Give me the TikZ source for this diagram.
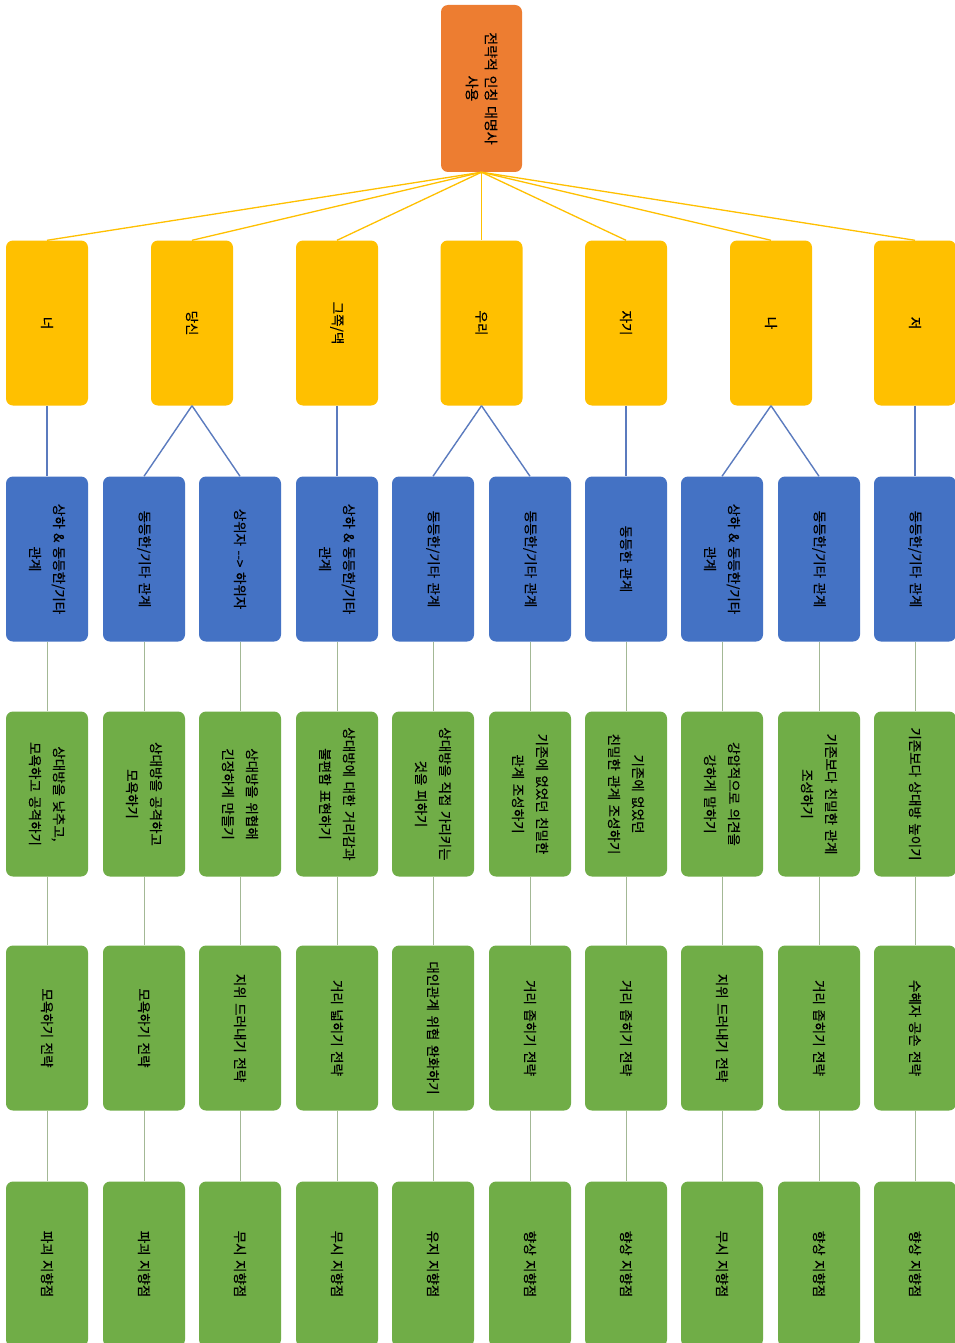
\documentclass[tikz,border=0pt]{standalone}
\usepackage{fontspec}
\newfontfamily\kr[FakeBold=0.4]{Noto Sans CJK KR}
\definecolor{corange}{HTML}{ED7D31}
\definecolor{cyellow}{HTML}{FFC000}
\definecolor{cblue}{HTML}{4472C4}
\definecolor{cgreen}{HTML}{70AD47}
\definecolor{cblueline}{HTML}{5B7BBE}
\definecolor{cgrayline}{HTML}{A3B895}
\begin{document}
\begin{tikzpicture}[x=1pt,y=-1pt,
  box/.style={rectangle, rounded corners=7pt, rotate=-90, minimum width=165pt,
    minimum height=82pt, inner sep=1pt, text width=161pt, align=center,
    font=\kr\fontsize{13.5}{24}\selectfont, text=black},
  rootbox/.style={box, fill=corange, font=\kr\fontsize{14}{19}\selectfont, minimum width=167pt, minimum height=81pt},
  ybox/.style={box, fill=cyellow},
  bbox/.style={box, fill=cblue},
  gbox/.style={box, fill=cgreen},
  ycon/.style={draw=cyellow, line width=1.3pt},
  bcon/.style={draw=cblueline, line width=1.4pt},
  gcon/.style={draw=cgrayline, line width=0.8pt}]
\useasboundingbox (0,0) rectangle (955,1343);
\fill[white] (0,0) rectangle (955,1343);

% root
\node[rootbox] (root) at (481.5,88.5) {전략적 인칭 대명사\\사용};

% level 1
\node[ybox] (y1) at (47,323) {너};
\node[ybox] (y2) at (192,323) {당신};
\node[ybox] (y3) at (337,323) {그쪽/댁};
\node[ybox] (y4) at (481.5,323) {우리};
\node[ybox] (y5) at (626,323) {자기};
\node[ybox] (y6) at (771,323) {나};
\node[ybox] (y7) at (915,323) {저};

% level 2
\node[bbox] (b1) at (47,559) {상하 \& 동등한/기타\\관계};
\node[bbox] (b2) at (144,559) {동등한/기타 관계};
\node[bbox] (b3) at (240,559) {상위자 --> 하위자};
\node[bbox] (b4) at (337,559) {상하 \& 동등한/기타\\관계};
\node[bbox] (b5) at (433,559) {동등한/기타 관계};
\node[bbox] (b6) at (530,559) {동등한/기타 관계};
\node[bbox] (b7) at (626,559) {동등한 관계};
\node[bbox] (b8) at (722,559) {상하 \& 동등한/기타\\관계};
\node[bbox] (b9) at (819,559) {동등한/기타 관계};
\node[bbox] (b10) at (915,559) {동등한/기타 관계};

% level 3
\node[gbox] (c1) at (47,794) {상대방을 낮추고,\\모욕하고 공격하기};
\node[gbox] (c2) at (144,794) {상대방을 공격하고\\모욕하기};
\node[gbox] (c3) at (240,794) {상대방을 위협해\\긴장하게 만들기};
\node[gbox] (c4) at (337,794) {상대방에 대한 거리감과\\불편함 표현하기};
\node[gbox] (c5) at (433,794) {상대방을 직접 가리키는\\것을 피하기};
\node[gbox] (c6) at (530,794) {기존에 없었던 친밀한\\관계 조성하기};
\node[gbox] (c7) at (626,794) {기존에 없었던\\친밀한 관계 조성하기};
\node[gbox] (c8) at (722,794) {강압적으로 의견을\\강하게 말하기};
\node[gbox] (c9) at (819,794) {기존보다 친밀한 관계\\조성하기};
\node[gbox] (c10) at (915,794) {기존보다 상대방 높이기};

% level 4
\node[gbox] (d1) at (47,1028) {모욕하기 전략};
\node[gbox] (d2) at (144,1028) {모욕하기 전략};
\node[gbox] (d3) at (240,1028) {지위 드러내기 전략};
\node[gbox] (d4) at (337,1028) {거리 넓히기 전략};
\node[gbox] (d5) at (433,1028) {대인관계 위협 완화하기};
\node[gbox] (d6) at (530,1028) {거리 좁히기 전략};
\node[gbox] (d7) at (626,1028) {거리 좁히기 전략};
\node[gbox] (d8) at (722,1028) {지위 드러내기 전략};
\node[gbox] (d9) at (819,1028) {거리 좁히기 전략};
\node[gbox] (d10) at (915,1028) {수혜자 공손 전략};

% level 5
\node[gbox] (e1) at (47,1264) {파괴 지향점};
\node[gbox] (e2) at (144,1264) {파괴 지향점};
\node[gbox] (e3) at (240,1264) {무시 지향점};
\node[gbox] (e4) at (337,1264) {무시 지향점};
\node[gbox] (e5) at (433,1264) {유지 지향점};
\node[gbox] (e6) at (530,1264) {향상 지향점};
\node[gbox] (e7) at (626,1264) {향상 지향점};
\node[gbox] (e8) at (722,1264) {무시 지향점};
\node[gbox] (e9) at (819,1264) {향상 지향점};
\node[gbox] (e10) at (915,1264) {향상 지향점};

% connectors root -> level 1
\foreach \i in {1,...,7} \draw[ycon] (root.east) -- (y\i.west);

% level 1 -> level 2
\draw[bcon] (y1.east) -- (b1.west);
\draw[bcon] (y2.east) -- (b2.west);
\draw[bcon] (y2.east) -- (b3.west);
\draw[bcon] (y3.east) -- (b4.west);
\draw[bcon] (y4.east) -- (b5.west);
\draw[bcon] (y4.east) -- (b6.west);
\draw[bcon] (y5.east) -- (b7.west);
\draw[bcon] (y6.east) -- (b8.west);
\draw[bcon] (y6.east) -- (b9.west);
\draw[bcon] (y7.east) -- (b10.west);

% lower levels
\foreach \i in {1,...,10} {
  \draw[gcon] (b\i.east) -- (c\i.west);
  \draw[gcon] (c\i.east) -- (d\i.west);
  \draw[gcon] (d\i.east) -- (e\i.west);
}
\end{tikzpicture}
\end{document}
